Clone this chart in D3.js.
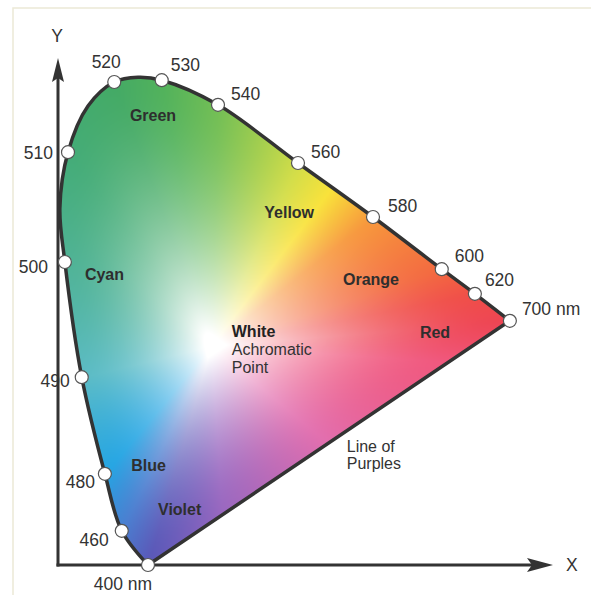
<!DOCTYPE html>
<html>
<head>
<meta charset="utf-8">
<title>CIE chromaticity diagram</title>
<style>
  body { margin: 0; background: #fff; }
  svg text { font-family: "Liberation Sans", Arial, sans-serif; fill: #333; }
  .wl { font-size: 17.5px; }
  .region { font-size: 16px; font-weight: bold; fill: #2e2e2e; }
  .note { font-size: 16px; }
  .axis-line { stroke: #333; stroke-width: 3; }
  .locus { fill: none; stroke: #333; stroke-width: 3.5; stroke-linejoin: round; }
  .marker { fill: #fff; stroke: #555; stroke-width: 1.2; }
</style>
<script src="https://d3js.org/d3.v7.min.js"></script>
</head>
<body>
<script>
// spectral locus (chart units, origin where the axes meet)
var wavelengths = [400, 460, 480, 490, 500, 505, 510, 515, 520, 525, 530, 540, 560, 580, 600, 620, 700];
var locusX = [0.144, 0.102, 0.075, 0.038, 0.011, 0.003, 0.016, 0.048, 0.090, 0.128, 0.166, 0.256, 0.384, 0.504, 0.614, 0.667, 0.723];
var locusY = [0.000, 0.057, 0.152, 0.313, 0.505, 0.595, 0.688, 0.765, 0.805, 0.813, 0.808, 0.767, 0.670, 0.580, 0.493, 0.452, 0.407];
// which points carry a marker + label (null = only shapes the curve)
var markerLabels = ['400 nm', '460', '480', '490', '500', null, '510', null, '520', null, '530', '540', '560', '580', '600', '620', '700 nm'];

// colour names written inside the diagram
var regionNames = ['Green', 'Yellow', 'Cyan', 'Orange', 'Red', 'Blue', 'Violet'];
var regionX = [0.115, 0.330, 0.043, 0.456, 0.579, 0.117, 0.160];
var regionY = [0.740, 0.578, 0.475, 0.467, 0.378, 0.157, 0.083];

// achromatic point
var whiteX = 0.245, whiteY = 0.365;

var width = 591, height = 595;
var origin = {x: 58, y: 565};

var svg = d3.select('body').append('svg')
  .attr('width', width)
  .attr('height', height);

var xScale = d3.scaleLinear().domain([0, 0.8]).range([origin.x, origin.x + 500]);
var yScale = d3.scaleLinear().domain([0, 0.9]).range([origin.y, origin.y - 540]);

var points = wavelengths.map(function(w, i) {
  return {w: w, x: locusX[i], y: locusY[i], label: markerLabels[i]};
});

// faint page frame of the scan
svg.append('path')
  .attr('d', 'M13,' + height + 'V8H' + width)
  .attr('fill', 'none')
  .attr('stroke', '#ece9d6')
  .attr('stroke-width', 1.5);

// horseshoe: spectral curve, then straight line of purples back to 400 nm
var line = d3.line()
  .x(function(d) { return xScale(d.x); })
  .y(function(d) { return yScale(d.y); })
  .curve(d3.curveCatmullRom.alpha(0.5));
var locusPath = line(points) + 'L' + xScale(points[0].x) + ',' + yScale(points[0].y) + 'Z';

var clipPath = svg.append('clipPath').attr('id', 'locus-clip')
  .append('path').attr('d', locusPath);

// --- colour field: hue by direction from the white point, fading to white at the centre
var wx = xScale(whiteX), wy = yScale(whiteY);

// edge colours, placed by direction (chart units)
var hueStops = [
  [0.723, 0.407, '#ee4553'], [0.667, 0.452, '#f04f48'], [0.614, 0.493, '#f36a40'],
  [0.504, 0.580, '#f7983c'], [0.435, 0.625, '#f9e23a'], [0.384, 0.670, '#d2dd48'],
  [0.256, 0.767, '#74bf55'], [0.166, 0.808, '#52b25b'], [0.090, 0.805, '#44aa65'],
  [0.016, 0.688, '#44ac78'], [0.011, 0.505, '#50b397'], [0.038, 0.313, '#5cbcc6'],
  [0.075, 0.152, '#25a5e3'], [0.102, 0.057, '#4a7ed0'], [0.144, 0.000, '#5a58b8'],
  [0.259, 0.142, '#9a68c0'], [0.387, 0.242, '#e26eae'], [0.579, 0.342, '#f0587e']
].map(function(s) {
  var a = Math.atan2(yScale(s[1]) - wy, xScale(s[0]) - wx);
  return {a: a, c: d3.rgb(s[2])};
}).sort(function(p, q) { return p.a - q.a; });

function hueAt(a) {
  var n = hueStops.length;
  for (var i = 0; i < n; i++) {
    var p = hueStops[i], q = hueStops[(i + 1) % n];
    var qa = i + 1 < n ? q.a : q.a + 2 * Math.PI;
    var aa = a < hueStops[0].a ? a + 2 * Math.PI : a;
    if (aa >= p.a && aa <= qa) {
      var t = (aa - p.a) / (qa - p.a);
      return [p.c.r + (q.c.r - p.c.r) * t, p.c.g + (q.c.g - p.c.g) * t, p.c.b + (q.c.b - p.c.b) * t];
    }
  }
  return [255, 255, 255];
}

// boundary distance by direction
var nb = 1440, radius = new Array(nb).fill(0);
var pathNode = clipPath.node(), total = pathNode.getTotalLength();
for (var s = 0; s <= 4000; s++) {
  var pt = pathNode.getPointAtLength(total * s / 4000);
  var ang = Math.atan2(pt.y - wy, pt.x - wx);
  var b = Math.floor((ang + Math.PI) / (2 * Math.PI) * nb) % nb;
  radius[b] = Math.max(radius[b], Math.hypot(pt.x - wx, pt.y - wy));
}
for (var i = 0; i < nb; i++) {
  if (!radius[i]) {
    var l = i, r = i;
    while (!radius[(l + nb) % nb]) l--;
    while (!radius[r % nb]) r++;
    var rl = radius[(l + nb) % nb], rr = radius[r % nb];
    radius[i] = rl + (rr - rl) * (i - l) / (r - l);
  }
}

var canvas = document.createElement('canvas');
canvas.width = width;
canvas.height = height;
var ctx = canvas.getContext('2d');
var img = ctx.createImageData(width, height);
for (var py = 60; py < 575; py++) {
  for (var px = 50; px < 520; px++) {
    var dx = px - wx, dy = py - wy;
    var a = Math.atan2(dy, dx);
    var bin = Math.floor((a + Math.PI) / (2 * Math.PI) * nb) % nb;
    var t = Math.min(1, Math.hypot(dx, dy) / radius[bin]);
    t = Math.max(0, (t - 0.05) / 0.95);
    var f = 1 - Math.pow(1 - t, 1.8);
    var h = hueAt(a);
    var idx = (py * width + px) * 4;
    img.data[idx] = 255 + (h[0] - 255) * f;
    img.data[idx + 1] = 255 + (h[1] - 255) * f;
    img.data[idx + 2] = 255 + (h[2] - 255) * f;
    img.data[idx + 3] = 255;
  }
}
ctx.putImageData(img, 0, 0);

svg.append('image')
  .attr('href', canvas.toDataURL())
  .attr('x', 0).attr('y', 0)
  .attr('width', width).attr('height', height)
  .attr('clip-path', 'url(#locus-clip)');

svg.append('path')
  .attr('class', 'locus')
  .attr('d', locusPath);

// wavelength labels; offsets relative to their marker
var labelPos = {
  '400 nm': [-25, 25, 'middle'], '460': [-13, 15, 'end'], '480': [-10, 14, 'end'],
  '490': [-12, 10, 'end'], '500': [-17, 11, 'end'], '510': [-15, 7, 'end'],
  '520': [-8, -14, 'middle'], '530': [9, -9, 'start'], '540': [13, -5, 'start'],
  '560': [13, -5, 'start'], '580': [15, -5, 'start'], '600': [13, -7, 'start'],
  '620': [10, -8, 'start'], '700 nm': [12, -6, 'start']
};
var marked = points.filter(function(d) { return d.label; });

svg.selectAll('.wl')
  .data(marked)
  .enter()
  .append('text')
  .attr('class', 'wl')
  .attr('x', function(d) { return xScale(d.x) + labelPos[d.label][0]; })
  .attr('y', function(d) { return yScale(d.y) + labelPos[d.label][1]; })
  .attr('text-anchor', function(d) { return labelPos[d.label][2]; })
  .text(function(d) { return d.label; });

// axes with arrow heads
svg.append('line').attr('class', 'axis-line')
  .attr('x1', origin.x).attr('y1', origin.y + 1.5)
  .attr('x2', origin.x).attr('y2', 75);
svg.append('path')
  .attr('d', 'M' + origin.x + ',58L' + (origin.x - 6) + ',82L' + origin.x + ',78L' + (origin.x + 6) + ',82Z')
  .attr('fill', '#333');
svg.append('line').attr('class', 'axis-line')
  .attr('x1', origin.x - 1.5).attr('y1', origin.y)
  .attr('x2', 535).attr('y2', origin.y);
svg.append('path')
  .attr('d', 'M553,' + origin.y + 'L527,' + (origin.y - 7) + 'L532,' + origin.y + 'L527,' + (origin.y + 7) + 'Z')
  .attr('fill', '#333');
svg.append('text').attr('class', 'wl').attr('x', 57).attr('y', 42).attr('text-anchor', 'middle').text('Y');
svg.append('text').attr('class', 'wl').attr('x', 566).attr('y', 571).text('X');

// markers on top
svg.selectAll('.marker')
  .data(marked)
  .enter()
  .append('circle')
  .attr('class', 'marker')
  .attr('cx', function(d) { return xScale(d.x); })
  .attr('cy', function(d) { return yScale(d.y); })
  .attr('r', 6.5);

// colour names
svg.selectAll('.region')
  .data(regionNames)
  .enter()
  .append('text')
  .attr('class', 'region')
  .attr('x', function(d, i) { return xScale(regionX[i]); })
  .attr('y', function(d, i) { return yScale(regionY[i]); })
  .text(function(d) { return d; });

// white point note and line of purples note
var white = svg.append('text').attr('class', 'note')
  .attr('x', xScale(0.278)).attr('y', yScale(0.380));
white.append('tspan').attr('font-weight', 'bold').attr('fill', '#222').text('White');
white.append('tspan').attr('x', xScale(0.278)).attr('dy', 18).text('Achromatic');
white.append('tspan').attr('x', xScale(0.278)).attr('dy', 18).text('Point');

var purples = svg.append('text').attr('class', 'note')
  .attr('font-size', 15)
  .attr('x', xScale(0.462)).attr('y', yScale(0.188));
purples.append('tspan').text('Line of');
purples.append('tspan').attr('x', xScale(0.462)).attr('dy', 17).text('Purples');
</script>
</body>
</html>
